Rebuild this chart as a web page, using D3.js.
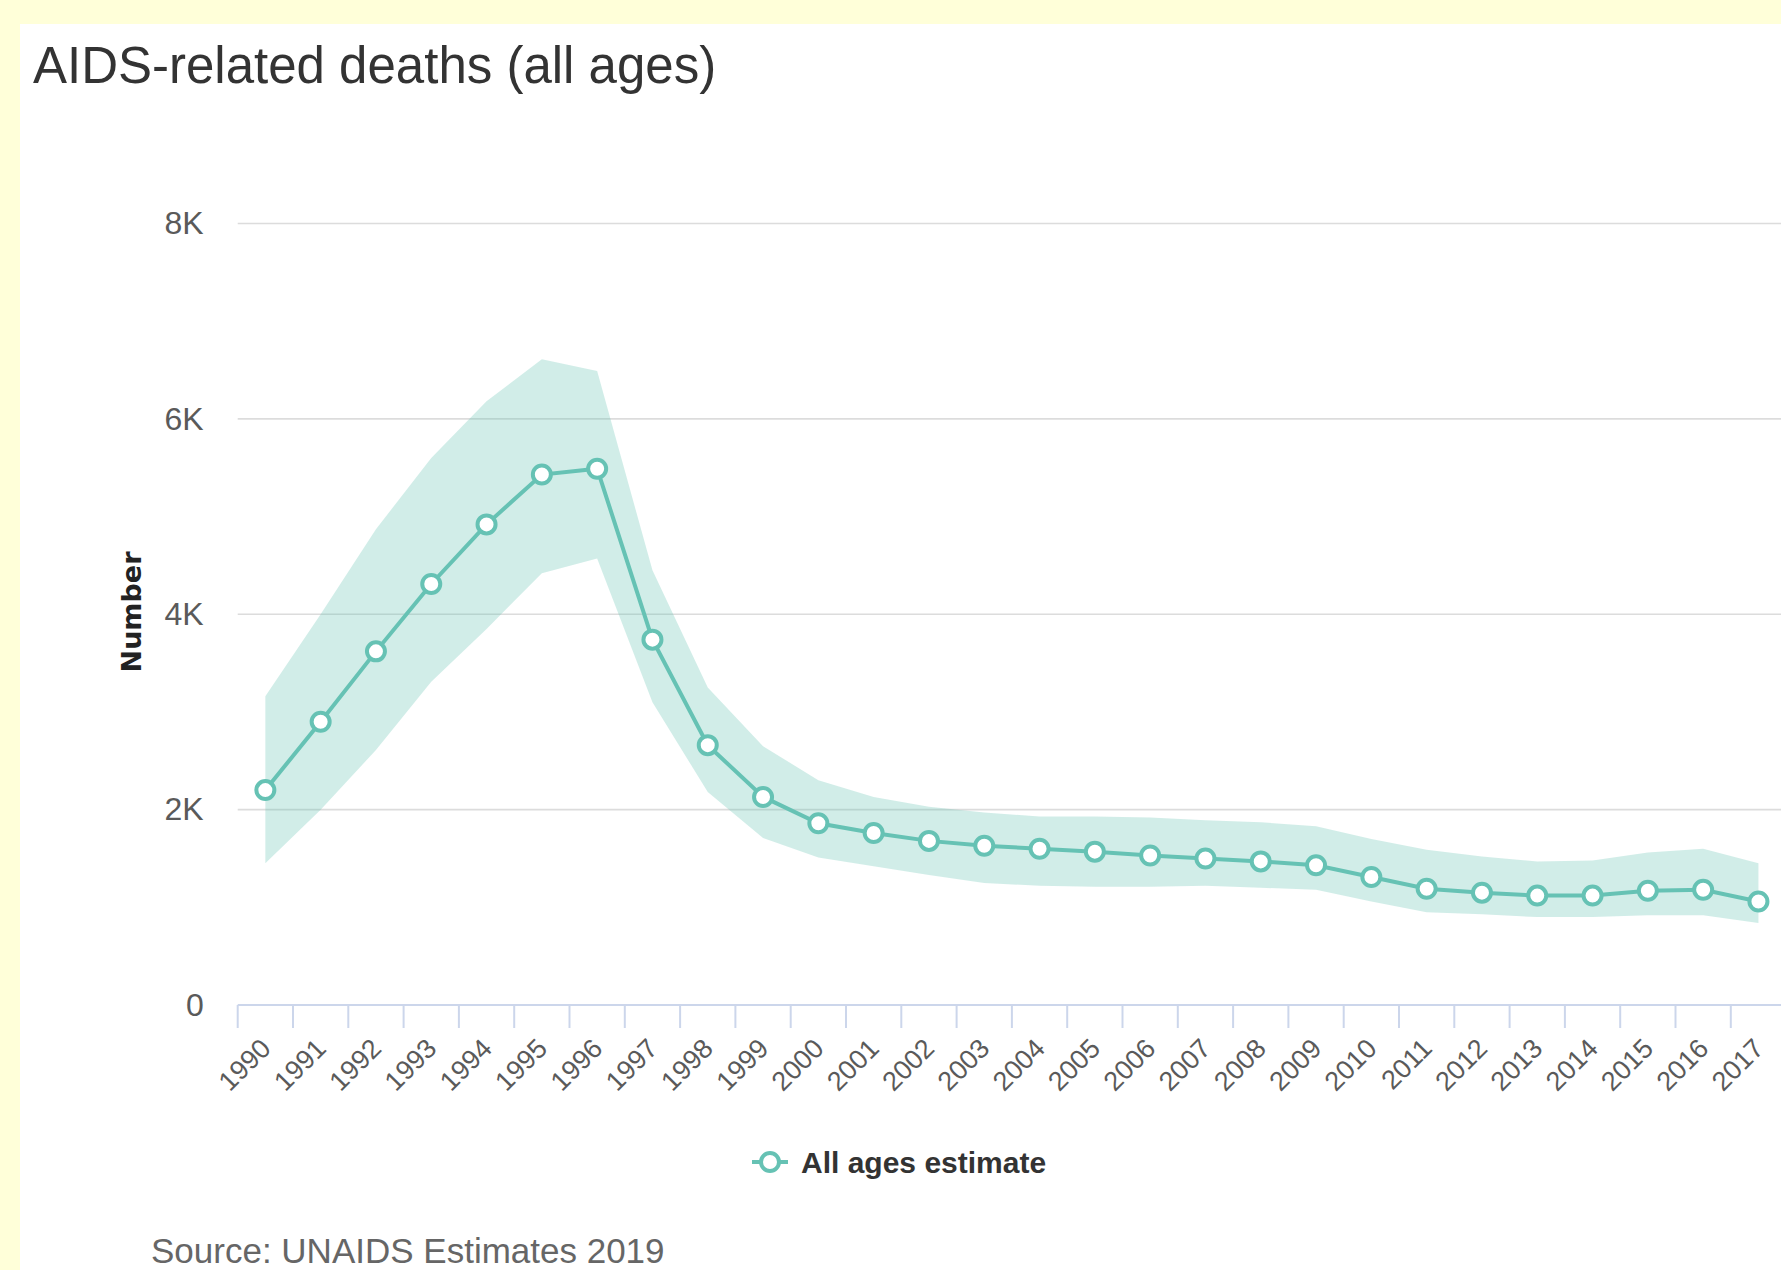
<!DOCTYPE html>
<html>
<head>
<meta charset="utf-8">
<script src="https://cdn.jsdelivr.net/npm/d3@7"></script>
<style>
  html, body { margin: 0; padding: 0; background: #ffffd9; }
  svg { display: block; }
</style>
</head>
<body>
<svg id="chart" width="1781" height="1270"></svg>
<script>
const years = ["1990","1991","1992","1993","1994","1995","1996","1997","1998","1999",
  "2000","2001","2002","2003","2004","2005","2006","2007","2008","2009",
  "2010","2011","2012","2013","2014","2015","2016","2017"];
const estimate = [2200,2900,3620,4310,4920,5430,5490,3740,2660,2130,
  1860,1760,1680,1630,1600,1570,1530,1500,1470,1430,
  1310,1190,1150,1120,1120,1170,1180,1060];
const lower = [1450,2000,2610,3310,3850,4420,4570,3100,2180,1710,
  1510,1420,1330,1250,1220,1210,1210,1220,1200,1180,
  1060,950,930,900,900,920,920,840];
const upper = [3160,4000,4870,5600,6180,6610,6490,4450,3250,2650,
  2300,2130,2030,1970,1930,1930,1920,1890,1870,1830,
  1700,1590,1520,1470,1480,1560,1600,1450];
const yTickValues = [0,2000,4000,6000,8000];
const yTickLabels = ["0","2K","4K","6K","8K"];
const titleText = "AIDS-related deaths (all ages)";
const yAxisTitle = "Number";
const legendLabel = "All ages estimate";
const sourceText = "Source: UNAIDS Estimates 2019";

const teal = "#66c2b4";
const svg = d3.select("#chart");

// white panel
svg.append("rect").attr("x", 20).attr("y", 24).attr("width", 1781).attr("height", 1270).attr("fill", "#ffffff");

const left = 237.7, step = 55.3;
const x = d3.scaleBand().domain(years).range([left, left + step * years.length]).padding(0);
const y = d3.scaleLinear().domain([0, 8000]).range([1005, 223.5]);
const cx = d => x(d) + x.bandwidth() / 2;

// title
svg.append("text").attr("x", 33).attr("y", 83)
  .attr("font-family", "'Liberation Sans', Arial, sans-serif").attr("font-size", 51)
  .attr("fill", "#333333").text(titleText);

// gridlines
svg.append("g").selectAll("line").data(yTickValues.filter(v => v > 0)).join("line")
  .attr("x1", left).attr("x2", 1781)
  .attr("y1", d => y(d)).attr("y2", d => y(d))
  .attr("stroke", "#dcdcdc").attr("stroke-width", 1.6);

// y axis labels
const yAxis = d3.axisLeft(y).tickValues(yTickValues)
  .tickFormat((d, i) => yTickLabels[i]).tickSize(0).tickPadding(34);
const gy = svg.append("g").attr("transform", `translate(${left},0)`).call(yAxis);
gy.select(".domain").remove();
gy.selectAll("text").attr("font-family", "'Liberation Sans', Arial, sans-serif")
  .attr("font-size", 32).attr("fill", "#5a5a5a");

// y axis title
svg.append("text").attr("transform", "translate(141,612) rotate(-90)")
  .attr("text-anchor", "middle")
  .attr("font-family", "'DejaVu Sans', sans-serif").attr("font-weight", "bold")
  .attr("font-size", 27).attr("fill", "#222222").text(yAxisTitle);

// x axis line and ticks
svg.append("line").attr("x1", left).attr("x2", 1781).attr("y1", y(0)).attr("y2", y(0))
  .attr("stroke", "#ccd6eb").attr("stroke-width", 2);
svg.append("g").selectAll("line").data(years).join("line")
  .attr("x1", d => x(d)).attr("x2", d => x(d))
  .attr("y1", y(0)).attr("y2", y(0) + 23)
  .attr("stroke", "#ccd6eb").attr("stroke-width", 2);

// x labels
svg.append("g").selectAll("text").data(years).join("text")
  .attr("transform", d => `translate(${cx(d) + 7},${y(0) + 45}) rotate(-45)`)
  .attr("text-anchor", "end")
  .attr("font-family", "'Liberation Sans', Arial, sans-serif").attr("font-size", 27)
  .attr("fill", "#5a5a5a").text(d => d);

// band
const data = years.map((yr, i) => ({yr, est: estimate[i], lo: lower[i], hi: upper[i]}));
svg.append("path").datum(data)
  .attr("d", d3.area().x(d => cx(d.yr)).y0(d => y(d.lo)).y1(d => y(d.hi)))
  .attr("fill", teal).attr("fill-opacity", 0.3);

// line
svg.append("path").datum(data)
  .attr("d", d3.line().x(d => cx(d.yr)).y(d => y(d.est)))
  .attr("fill", "none").attr("stroke", teal).attr("stroke-width", 4);

// markers
svg.append("g").selectAll("circle").data(data).join("circle")
  .attr("cx", d => cx(d.yr)).attr("cy", d => y(d.est)).attr("r", 9)
  .attr("fill", "#ffffff").attr("stroke", teal).attr("stroke-width", 4);

// legend
const lg = svg.append("g").attr("transform", "translate(770,1162)");
lg.append("line").attr("x1", -18).attr("x2", 18).attr("y1", 0).attr("y2", 0)
  .attr("stroke", teal).attr("stroke-width", 4);
lg.append("circle").attr("r", 9).attr("fill", "#ffffff").attr("stroke", teal).attr("stroke-width", 4);
lg.append("text").attr("x", 31).attr("y", 11)
  .attr("font-family", "'Liberation Sans', Arial, sans-serif").attr("font-weight", "bold")
  .attr("font-size", 30).attr("fill", "#333333").text(legendLabel);

// source
svg.append("text").attr("x", 151).attr("y", 1263)
  .attr("font-family", "'Liberation Sans', Arial, sans-serif").attr("font-size", 35)
  .attr("fill", "#666666").text(sourceText);
</script>
</body>
</html>
